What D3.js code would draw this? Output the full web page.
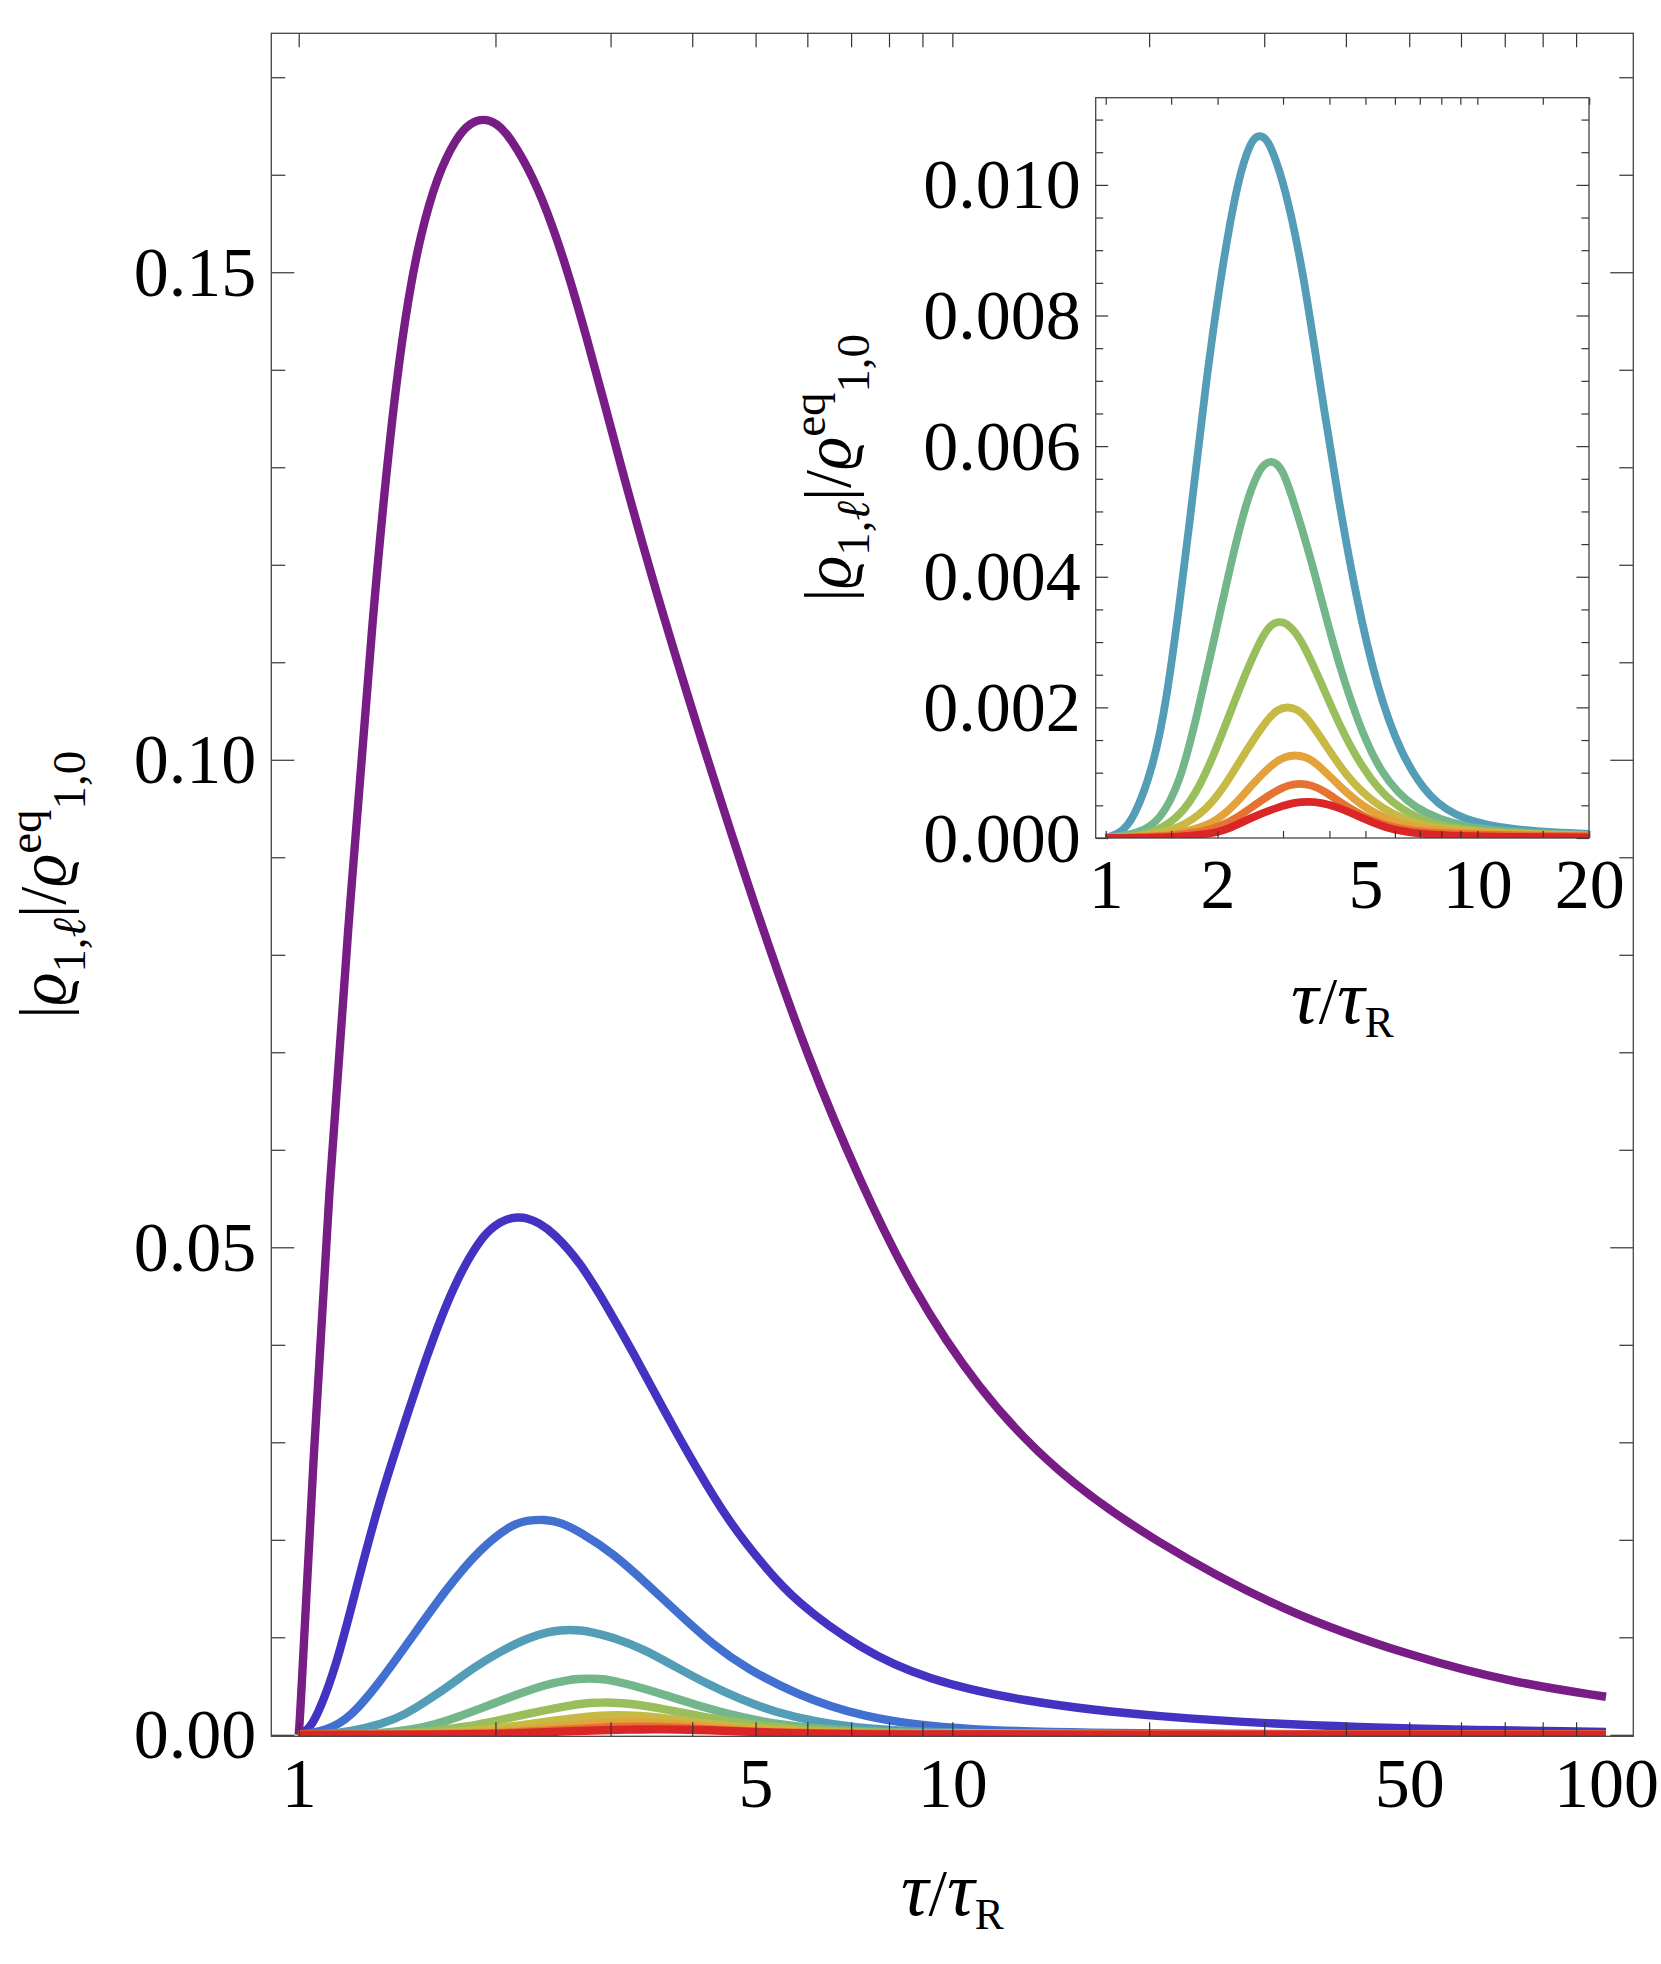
<!DOCTYPE html>
<html>
<head>
<meta charset="utf-8">
<script src="https://cdn.jsdelivr.net/npm/d3@7"></script>
<style>
  body { margin: 0; background: #fff; }
  text { font-family: "Liberation Serif", "DejaVu Serif", serif; fill: #000; }
</style>
</head>
<body>
<svg id="chart" width="1661" height="1964"></svg>
<script>
// values, pairs of [tau/tauR, |rho_1,l| / rho_eq_1,0]
var curve1 = [[1.000,0],[1.005,0.0017],[1.053,0.0283],[1.110,0.0550],[1.200,0.0860],[1.304,0.1164],
  [1.363,0.1297],[1.412,0.1390],[1.471,0.1474],[1.533,0.1536],[1.626,0.1598],[1.745,0.1639],
  [1.828,0.1653],[1.916,0.1658],[2.009,0.1653],[2.105,0.1639],[2.285,0.1598],[2.452,0.1546],
  [2.600,0.1493],[2.758,0.1433],[2.924,0.1370],[3.101,0.1305],[3.433,0.1197],[4.075,0.1032],
  [5.009,0.0845],[6.018,0.0693],[7.227,0.0567],[8.681,0.0457],[10.92,0.0355],[14.37,0.0269],
  [20.26,0.0199],[32.04,0.0126],[50.69,0.0080],[71.45,0.0054],[100,0.0039]];
var curve2 = [[1.000,0],[1.030,0.0004],[1.065,0.0017],[1.143,0.0071],[1.227,0.0153],[1.331,0.0242],
  [1.446,0.0316],[1.570,0.0389],[1.724,0.0461],[1.894,0.0509],[2.000,0.0523],[2.080,0.0529],
  [2.160,0.0531],[2.240,0.0530],[2.330,0.0525],[2.452,0.0515],[2.694,0.0485],[2.959,0.0440],
  [3.250,0.0392],[3.613,0.0334],[4.062,0.0273],[4.568,0.0217],[5.137,0.0174],[5.746,0.0137],
  [7.227,0.0088],[9.086,0.0057],[12.81,0.0034],[20.26,0.0018],[40.3,0.0007],[100,0.0003]];
var curve3 = [[1.000,0],[1.100,0.0004],[1.198,0.0017],[1.331,0.0054],[1.497,0.0102],[1.684,0.0150],
  [1.894,0.0191],[2.130,0.0217],[2.250,0.0220],[2.373,0.0221],[2.520,0.0218],[2.694,0.0208],
  [3.029,0.0186],[3.408,0.0155],[3.832,0.0123],[4.309,0.0092],[4.845,0.0068],[5.746,0.0042],
  [7.227,0.0018],[10.2,0.0004],[20,0.0001],[100,0]];
var curve4 = [[1.000,0],[1.093,0.00007],[1.187,0.00027],[1.344,0.00109],[1.459,0.00211],[1.585,0.00364],
  [1.721,0.00530],[1.854,0.00690],[2.022,0.00847],[2.245,0.00998],[2.420,0.01057],[2.510,0.01072],
  [2.600,0.01076],[2.700,0.01071],[2.800,0.01055],[3.030,0.01000],[3.385,0.00874],[3.759,0.00701],
  [4.227,0.00518],[4.736,0.00364],[5.362,0.00232],[6.194,0.00130],[7.458,0.00058],[9.169,0.00027],
  [12.50,0.00012],[18.9,0.00006],[40,0.00002],[100,0]];
var curve5 = [[1.000,0],[1.237,0.00007],[1.400,0.00027],[1.585,0.00084],[1.758,0.00186],[1.948,0.00298],
  [2.160,0.00415],[2.395,0.00518],[2.580,0.00562],[2.680,0.00573],[2.780,0.00577],[2.880,0.00574],
  [3.000,0.00562],[3.198,0.00518],[3.620,0.00415],[4.098,0.00293],[4.736,0.00181],[5.472,0.00099],
  [6.727,0.00043],[9.169,0.00015],[15,0.00004],[100,0]];
var curve6 = [[1.000,0],[1.200,0.00002],[1.371,0.00010],[1.585,0.00033],[1.794,0.00078],[2.030,0.00150],
  [2.298,0.00232],[2.602,0.00303],[2.750,0.00323],[2.840,0.00329],[2.927,0.00331],[3.020,0.00330],
  [3.120,0.00325],[3.333,0.00308],[3.773,0.00242],[4.271,0.00170],[4.935,0.00104],[5.823,0.00053],
  [7.458,0.00020],[10.17,0.00009],[20,0.00002],[100,0]];
var curve7 = [[1.000,0],[1.300,0.00003],[1.585,0.00015],[1.870,0.00043],[2.117,0.00084],[2.395,0.00135],
  [2.713,0.00181],[2.900,0.00197],[3.075,0.00201],[3.260,0.00198],[3.475,0.00186],[3.933,0.00140],
  [4.451,0.00094],[5.250,0.00053],[6.457,0.00025],[8.274,0.00012],[15,0.00003],[100,0]];
var curve8 = [[1.000,0],[1.400,0.00003],[1.652,0.00010],[1.948,0.00022],[2.204,0.00048],[2.496,0.00084],
  [2.825,0.00115],[3.050,0.00125],[3.232,0.00127],[3.430,0.00125],[3.698,0.00115],[4.271,0.00078],
  [5.039,0.00043],[6.194,0.00020],[7.937,0.00010],[15,0.00002],[100,0]];
var curve9 = [[1.000,0],[1.500,0.00002],[1.948,0.00012],[2.251,0.00030],[2.549,0.00053],[2.886,0.00073],
  [3.100,0.00081],[3.333,0.00084],[3.580,0.00081],[3.851,0.00073],[4.451,0.00048],[5.250,0.00025],
  [6.457,0.00010],[10,0.00003],[100,0]];
var curve10 = [[1.000,0],[1.600,0.00001],[1.870,0.00006],[2.117,0.00012],[2.496,0.00033],[2.944,0.00048],
  [3.200,0.00054],[3.496,0.00056],[3.800,0.00054],[4.183,0.00048],[4.935,0.00030],[5.823,0.00012],
  [7.5,0.00004],[12,0.00001],[100,0]];

var curves = [curve1, curve2, curve3, curve4, curve5, curve6, curve7, curve8, curve9, curve10];
var curveColors = ["#781c86", "#4433c2", "#4270d0", "#539db7", "#72b68a",
                   "#99be5b", "#c6b944", "#e3a23a", "#e57132", "#da2626"];
var insetCurves = [3, 4, 5, 6, 7, 8, 9]; // which curves the inset zooms in on

var mainXTicks = [1, 5, 10, 50, 100];
var mainXLabels = ["1", "5", "10", "50", "100"];
var mainYTicks = [0, 0.05, 0.10, 0.15];
var mainYLabels = ["0.00", "0.05", "0.10", "0.15"];
var insetXTicks = [1, 2, 5, 10, 20];
var insetXLabels = ["1", "2", "5", "10", "20"];
var insetYTicks = [0, 0.002, 0.004, 0.006, 0.008, 0.010];
var insetYLabels = ["0.000", "0.002", "0.004", "0.006", "0.008", "0.010"];

var svg = d3.select("#chart");

//minor ticks for a log axis between lo and hi
function logMinor(lo, hi) {
  var out = [];
  for (var dec = 1; dec < hi; dec *= 10) {
    for (var k = 1; k < 10; k++) {
      var v = k * dec;
      if (v >= lo && v <= hi) out.push(v);
    }
  }
  return out;
}

function drawPanel(p) {
  var g = svg.append("g");
  var x = d3.scaleLog().domain(p.xDomain).range(p.xRange);
  var y = d3.scaleLinear().domain(p.yDomain).range(p.yRange);

  var clipId = "clip" + p.id;
  g.append("clipPath").attr("id", clipId)
    .append("rect")
    .attr("x", p.left).attr("y", p.top)
    .attr("width", p.right - p.left).attr("height", p.bottom - p.top);

  /** curves (b-spline through the read points, smooths reading noise) */
  var line = d3.line()
    .x(d => x(d[0]))
    .y(d => y(d[1]))
    .curve(d3.curveBasis);

  g.append("g").attr("clip-path", "url(#" + clipId + ")")
    .selectAll("path")
    .data(p.series)
    .enter().append("path")
    .attr("d", i => line(curves[i]))
    .attr("fill", "none")
    .attr("stroke", i => curveColors[i])
    .attr("stroke-width", p.lineWidth)
    .attr("stroke-linejoin", "round");

  /** ticks, all pointing inward, on all four sides */
  var yMinor = d3.range(0, p.yDomain[1], p.yMinorStep).filter(v => !p.yTicks.some(t => Math.abs(t - v) < 1e-9));
  var xAll = p.xMinor;

  function tickGroup(axis, tx, ty) {
    var a = g.append("g").attr("transform", `translate(${tx},${ty})`).call(axis);
    a.select(".domain").remove();
    a.selectAll("line").attr("stroke", "#333").attr("stroke-width", 1.2);
    return a;
  }
  tickGroup(d3.axisBottom(x).tickValues(xAll).tickSize(-p.xTickLen).tickFormat(""), 0, p.bottom);
  tickGroup(d3.axisTop(x).tickValues(xAll).tickSize(-p.xTickLen).tickFormat(""), 0, p.top);
  tickGroup(d3.axisLeft(y).tickValues(p.yTicks).tickSize(-p.yMajorLen).tickFormat(""), p.left, 0);
  tickGroup(d3.axisLeft(y).tickValues(yMinor).tickSize(-p.yMinorLen).tickFormat(""), p.left, 0);
  tickGroup(d3.axisRight(y).tickValues(p.yTicks).tickSize(-p.yMajorLen).tickFormat(""), p.right, 0);
  tickGroup(d3.axisRight(y).tickValues(yMinor).tickSize(-p.yMinorLen).tickFormat(""), p.right, 0);

  /** frame */
  g.append("rect")
    .attr("x", p.left).attr("y", p.top)
    .attr("width", p.right - p.left).attr("height", p.bottom - p.top)
    .attr("fill", "none").attr("stroke", "#444").attr("stroke-width", 1.3);

  /** tick labels */
  var xl = g.append("g").attr("transform", `translate(0,${p.bottom})`)
    .call(d3.axisBottom(x).tickValues(p.xTicks).tickSize(0).tickPadding(0)
      .tickFormat((d, i) => p.xLabels[i]));
  xl.select(".domain").remove();
  xl.selectAll("text")
    .attr("y", p.xLabelBase).attr("dy", null)
    .style("font-size", p.fontSize + "px")
    .style("font-family", '"Liberation Serif", "DejaVu Serif", serif');

  var yl = g.append("g").attr("transform", `translate(${p.left},0)`)
    .call(d3.axisLeft(y).tickValues(p.yTicks).tickSize(0).tickPadding(15)
      .tickFormat((d, i) => p.yLabels[i]));
  yl.select(".domain").remove();
  yl.selectAll("text")
    .attr("dy", "0.33em")
    .style("font-size", p.fontSize + "px")
    .style("font-family", '"Liberation Serif", "DejaVu Serif", serif');

  /** axis titles */
  var cx = (p.left + p.right) / 2;
  var cy = (p.top + p.bottom) / 2;
  mathText(g.append("text")
      .attr("x", cx).attr("y", p.bottom + p.xTitleBase)
      .attr("text-anchor", "middle"),
    p.titleSize, [
      { t: "τ", s: 1.1, it: true },
      { t: "/", s: 0.95 },
      { t: "τ", s: 1.1, it: true },
      { t: "R", s: 0.62, sh: 0.2 }
    ]);

  mathText(g.append("text")
      .attr("transform", `translate(${p.left - p.yTitleOff},${cy}) rotate(-90)`)
      .attr("text-anchor", "middle"),
    p.titleSize * 0.93, [
      { t: "|" },
      { t: "ϱ", it: true },
      { t: "1,", s: 0.72, sh: 0.3 },
      { t: "ℓ", s: 0.72, sh: 0.3, it: true },
      { t: "|/" },
      { t: "ϱ", it: true },
      { t: "eq", s: 0.72, sh: -0.38 },
      { t: "1,0", s: 0.72, sh: 0.3 }
    ]);
}

//text with sub/superscripts; sh is the baseline offset in em of the base size
function mathText(sel, size, parts) {
  sel.style("font-size", size + "px");
  var prev = 0;
  parts.forEach(part => {
    var sh = part.sh || 0;
    sel.append("tspan")
      .attr("dy", ((sh - prev) * size).toFixed(1))
      .style("font-size", (size * (part.s || 1)) + "px")
      .style("font-style", part.it ? "italic" : "normal")
      .text(part.t);
    prev = sh;
  });
}

// main panel
drawPanel({
  id: "main",
  left: 271.3, right: 1633.3, top: 33.3, bottom: 1736.3,
  xDomain: [1, 100], xRange: [298.7, 1606],
  yDomain: [0, 0.1746], yRange: [1734.8, 32.4],
  series: d3.range(curves.length),
  lineWidth: 8.4,
  xTicks: mainXTicks, xLabels: mainXLabels,
  yTicks: mainYTicks, yLabels: mainYLabels,
  xMinor: logMinor(1, 100), yMinorStep: 0.01,
  xTickLen: 14, yMajorLen: 23, yMinorLen: 14,
  fontSize: 70, titleSize: 70,
  xLabelBase: 70.4, xTitleBase: 179, yTitleOff: 206
});

// inset panel
drawPanel({
  id: "inset",
  left: 1095.7, right: 1589, top: 97.7, bottom: 838,
  xDomain: [1, 20], xRange: [1105.7, 1589.2],
  yDomain: [0, 0.011335], yRange: [838, 97.7],
  series: insetCurves,
  lineWidth: 7.8,
  xTicks: insetXTicks, xLabels: insetXLabels,
  yTicks: insetYTicks, yLabels: insetYLabels,
  xMinor: logMinor(1, 20).concat([1.5, 15]), yMinorStep: 0.0005,
  xTickLen: 7, yMajorLen: 12.5, yMinorLen: 7.5,
  fontSize: 70, titleSize: 70,
  xLabelBase: 70.4, xTitleBase: 185, yTitleOff: 246
});
</script>
</body>
</html>
